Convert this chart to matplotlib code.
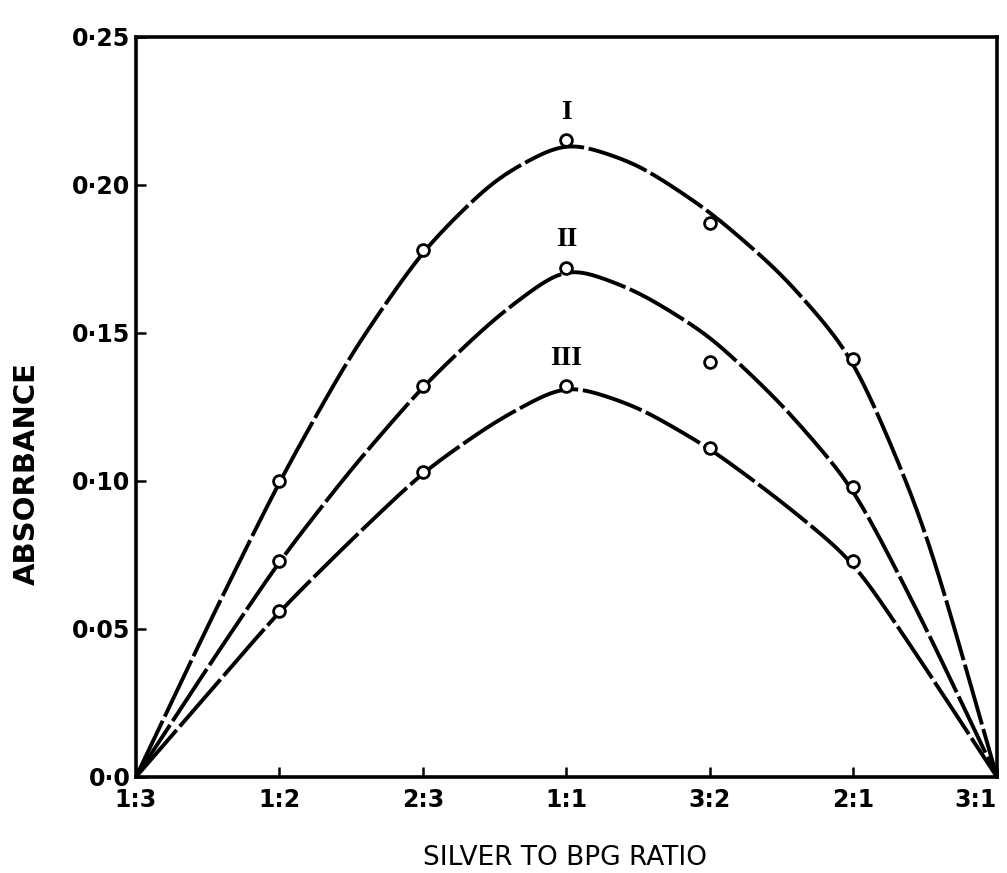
import numpy as np
import matplotlib
matplotlib.use('Agg')
import matplotlib.pyplot as plt

# x positions are the ratio categories, evenly spaced on the original axis
ratios = ['1:3', '1:2', '2:3', '1:1', '3:2', '2:1', '3:1']
y_ticks = [0.0, 0.05, 0.10, 0.15, 0.20, 0.25]
y_tick_labels = ['0·0', '0·05', '0·10', '0·15', '0·20', '0·25']

curve_names = ['I', 'II', 'III']
# measured points (open circles)
abs_I = [0.0, 0.100, 0.178, 0.215, 0.187, 0.141, 0.0]
abs_II = [0.0, 0.073, 0.132, 0.172, 0.140, 0.098, 0.0]
abs_III = [0.0, 0.056, 0.103, 0.132, 0.111, 0.073, 0.0]

# trace of the hand drawn curves, every half step
line_pos = [0, 0.5, 1, 1.5, 2, 2.5, 3, 3.5, 4, 4.5, 5, 5.5, 6]
line_I = [0, 0.051, 0.100, 0.143, 0.178, 0.202, 0.215, 0.207, 0.191,
          0.170, 0.142, 0.085, 0]
line_II = [0, 0.037, 0.073, 0.104, 0.132, 0.155, 0.173, 0.164, 0.149,
           0.126, 0.098, 0.051, 0]
line_III = [0, 0.028, 0.056, 0.080, 0.103, 0.120, 0.133, 0.125, 0.111,
            0.093, 0.073, 0.037, 0]


def smooth_trace(xp, yp, xs, sigma=0.13):
    # linear trace, then gaussian smoothing (odd extension at both ends
    # so the curves still start and finish at zero)
    y = np.interp(xs, xp, yp)
    dx = xs[1] - xs[0]
    m = int(4 * sigma / dx)
    ext = np.concatenate([-y[m:0:-1], y, -y[-2:-m - 2:-1]])
    k = np.exp(-0.5 * (np.arange(-m, m + 1) * dx / sigma) ** 2)
    k /= k.sum()
    return np.convolve(ext, k, mode='valid')


plt.rcParams.update({
    'font.family': 'DejaVu Sans',
    'font.weight': 'bold',
    'axes.linewidth': 2.6,
    'xtick.direction': 'in',
    'ytick.direction': 'in',
})

fig = plt.figure(figsize=(10.07, 8.73), dpi=100)
ax = fig.add_axes([0.135, 0.110, 0.855, 0.848])

x = np.arange(len(ratios))
xs = np.linspace(0, 6, 601)

for name, pts, crv in zip(curve_names, [abs_I, abs_II, abs_III],
                          [line_I, line_II, line_III]):
    ax.plot(xs, smooth_trace(line_pos, crv, xs), color='k', lw=2.8,
            dashes=(16, 1.2), solid_capstyle='butt', zorder=2)
    ax.plot(x[1:-1], pts[1:-1], 'o', mfc='white', mec='k', mew=2.0,
            markersize=8.5, zorder=3)
    ax.annotate(name, xy=(3, pts[3]), xytext=(0, 20),
                textcoords='offset points', ha='center', va='center',
                family='Liberation Serif', fontsize=20, fontweight='bold')

ax.set_xlim(0, 6)
ax.set_ylim(0, 0.25)
ax.set_xticks(x)
ax.set_xticklabels(ratios)
ax.set_yticks(y_ticks)
ax.set_yticklabels(y_tick_labels)
ax.tick_params(axis='both', length=7, width=1.8, labelsize=17)
ax.tick_params(axis='x', pad=8)
ax.tick_params(axis='y', pad=4)
ax.get_xticklabels()[-1].set_ha('right')

ax.set_ylabel('ABSORBANCE', fontsize=21, fontweight='bold')
ax.yaxis.set_label_coords(-0.110, 0.41)
ax.set_xlabel('SILVER TO BPG RATIO', fontsize=19, fontweight='normal')
ax.xaxis.set_label_coords(0.498, -0.092)

fig.savefig('out.png', dpi=100)
